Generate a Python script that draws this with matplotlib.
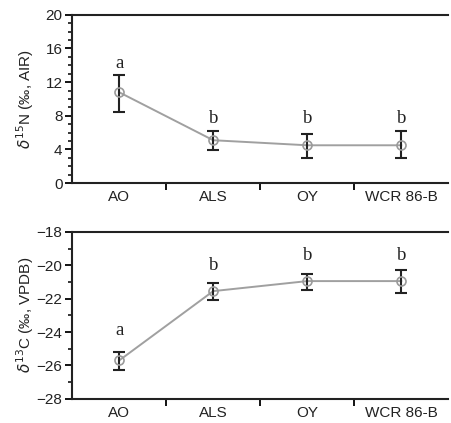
import matplotlib
matplotlib.use("Agg")
import matplotlib.pyplot as plt
from matplotlib.ticker import MultipleLocator

# Data
sites = ["AO", "ALS", "OY", "WCR 86-B"]
groups_n = ["a", "b", "b", "b"]
groups_c = ["a", "b", "b", "b"]

n15_mean = [10.8, 5.1, 4.5, 4.5]
n15_low = [8.4, 3.9, 3.0, 3.0]
n15_high = [12.8, 6.2, 5.8, 6.2]
n15_letter_y = [14.2, 7.7, 7.7, 7.7]

c13_mean = [-25.7, -21.55, -20.95, -20.95]
c13_low = [-26.25, -22.08, -21.48, -21.68]
c13_high = [-25.2, -21.08, -20.52, -20.29]
c13_letter_y = [-23.9, -20.0, -19.4, -19.4]

plt.rcParams["font.family"] = ["Liberation Sans", "DejaVu Sans"]

fig = plt.figure(figsize=(4.51, 4.23), dpi=100)
ax1 = fig.add_axes([0.16, 0.567, 0.834, 0.398])
ax2 = fig.add_axes([0.16, 0.057, 0.834, 0.395])

x = list(range(len(sites)))


def draw(ax, mean, low, high, letters, letter_y, ylim, major, ylabel):
    yerr = [[m - l for m, l in zip(mean, low)], [h - m for m, h in zip(mean, high)]]
    ax.plot(x, mean, color="#a0a0a0", lw=1.4, zorder=2)
    ax.errorbar(x, mean, yerr=yerr, fmt="none", ecolor="#222222", elinewidth=1.5,
                capsize=4.5, capthick=1.5, zorder=3)
    ax.plot(x, mean, "o", ms=6.5, mfc="none", mec="#9a9a9a", mew=1.2, zorder=4)
    for xi, yi, t in zip(x, letter_y, letters):
        ax.text(xi, yi, t, ha="center", va="center", fontsize=13.5,
                family=["Liberation Serif", "DejaVu Serif"], color="#222222")
    ax.set_xlim(-0.5, 3.5)
    ax.set_ylim(*ylim)
    ax.yaxis.set_major_locator(MultipleLocator(major))
    ax.yaxis.set_minor_locator(MultipleLocator(major / (4 if major == 4 else 2)))
    ax.set_xticks([0.5, 1.5, 2.5])
    ax.set_xticklabels([])
    ax.set_xticks(x, minor=True)
    ax.set_xticklabels(sites, minor=True, fontsize=11, color="#222222")
    ax.tick_params(axis="x", which="minor", length=0, pad=5)
    ax.tick_params(axis="x", which="major", length=5, width=1.3, direction="out")
    ax.tick_params(axis="y", which="major", length=5, width=1.3, labelsize=11, pad=2,
                   labelcolor="#222222")
    ax.tick_params(axis="y", which="minor", length=3, width=1.1)
    ax.spines["right"].set_visible(False)
    for s in ("left", "bottom", "top"):
        ax.spines[s].set_linewidth(1.5)
        ax.spines[s].set_color("#222222")
    ax.set_ylabel(ylabel, fontsize=11, color="#222222")
    ax.yaxis.set_label_coords(-0.095, 0.5)


draw(ax1, n15_mean, n15_low, n15_high, groups_n, n15_letter_y, (0, 20), 4,
     r"$\delta^{15}$N (‰, AIR)")
draw(ax2, c13_mean, c13_low, c13_high, groups_c, c13_letter_y, (-28, -18), 2,
     r"$\delta^{13}$C (‰, VPDB)")

ax1.set_yticklabels([str(int(v)) for v in ax1.get_yticks()])
ax2.set_yticklabels(["\u2212" + str(int(-v)) for v in ax2.get_yticks()])

fig.savefig("out.png", dpi=100)
